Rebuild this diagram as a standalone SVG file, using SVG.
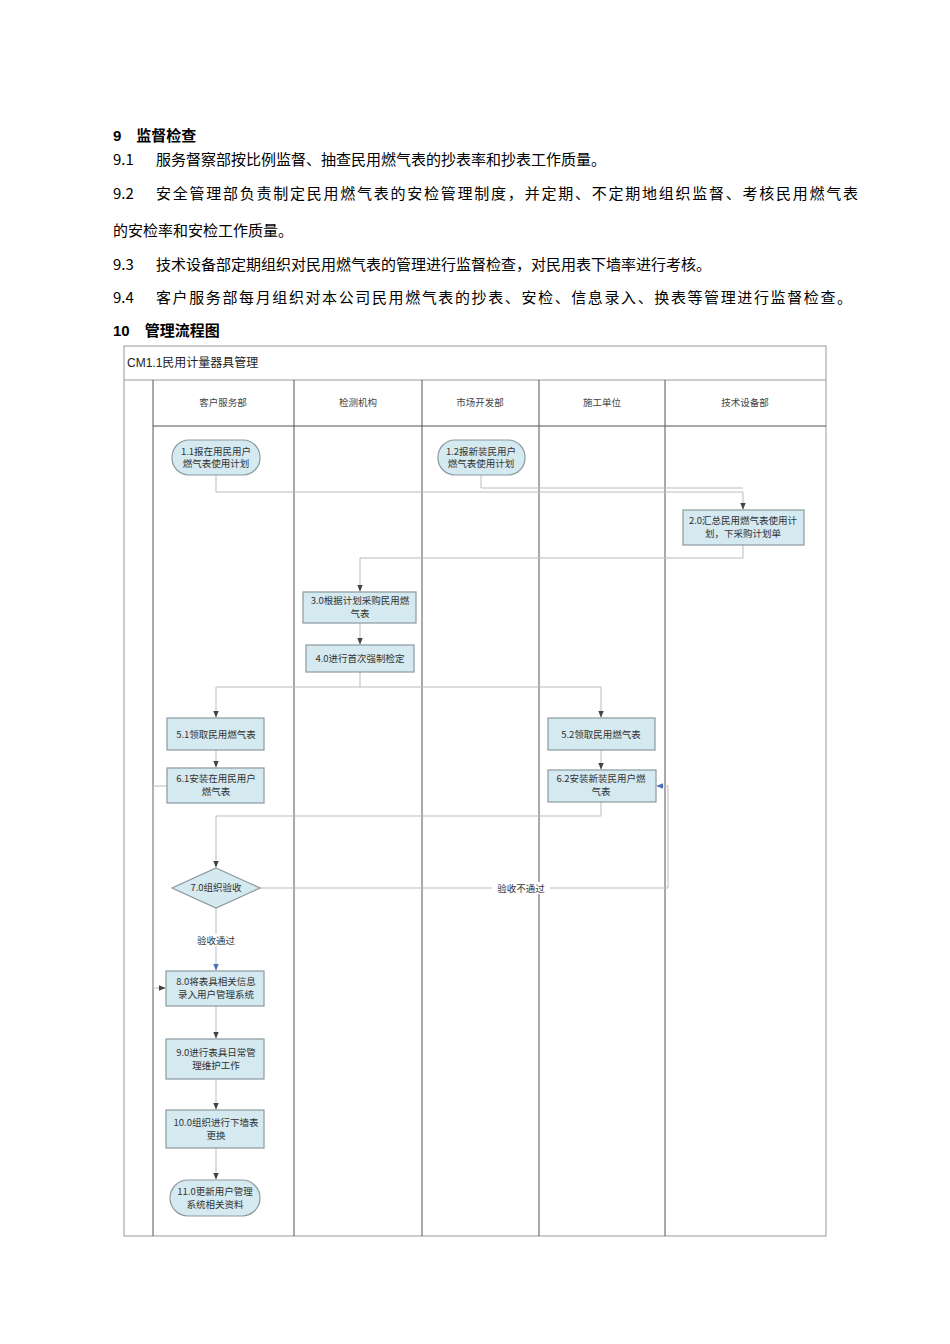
<svg xmlns="http://www.w3.org/2000/svg" width="950" height="1344" viewBox="0 0 950 1344">
<style>
.t{font-family:"Noto Sans CJK SC","Liberation Serif",serif;font-size:15px;fill:#000}
.h{font-family:"Liberation Sans","Noto Sans CJK SC",sans-serif;font-size:15px;font-weight:bold}
.n{fill:#d4e9f0;stroke:#8a9aa0;stroke-width:1.2}
.nt{font-family:"Noto Sans CJK SC",serif;font-size:9.5px;fill:#333;text-anchor:middle}
.lane{fill:none;stroke:#555;stroke-width:1}
.c{fill:none;stroke:#bbb;stroke-width:1}
.lh{font-family:"Noto Sans CJK SC",serif;font-size:9.5px;fill:#444;text-anchor:middle}
</style>
<defs>
<marker id="a" viewBox="0 0 10 10" refX="9" refY="5" markerWidth="7" markerHeight="7" orient="auto"><path d="M0,1 L10,5 L0,9z" fill="#444"/></marker>
<marker id="b" viewBox="0 0 10 10" refX="9" refY="5" markerWidth="7" markerHeight="7" orient="auto"><path d="M0,1 L10,5 L0,9z" fill="#4a6fb5"/></marker>
</defs>
<rect width="950" height="1344" fill="#fff"/>
<g id="text">
<text class="h" x="113" y="141">9　监督检查</text>
<text class="t" x="113" y="165">9.1</text><text class="t" x="156" y="165">服务督察部按比例监督、抽查民用燃气表的抄表率和抄表工作质量。</text>
<text class="t" x="113" y="199">9.2</text><text class="t" x="156" y="199" textLength="702" lengthAdjust="spacing">安全管理部负责制定民用燃气表的安检管理制度，并定期、不定期地组织监督、考核民用燃气表</text>
<text class="t" x="113" y="236">的安检率和安检工作质量。</text>
<text class="t" x="113" y="270">9.3</text><text class="t" x="156" y="270">技术设备部定期组织对民用燃气表的管理进行监督检查，对民用表下墙率进行考核。</text>
<text class="t" x="113" y="303">9.4</text><text class="t" x="156" y="303" textLength="696" lengthAdjust="spacing">客户服务部每月组织对本公司民用燃气表的抄表、安检、信息录入、换表等管理进行监督检查。</text>
<text class="h" x="113" y="336">10　管理流程图</text>
</g>
<g id="frame">
<rect x="124" y="346" width="702" height="890" fill="none" stroke="#999"/>
<line x1="124" y1="380" x2="826" y2="380" stroke="#999"/>
<text x="127" y="367" font-family="Liberation Sans,'Noto Sans CJK SC',sans-serif" font-size="12" fill="#222">CM1.1民用计量器具管理</text>
<line x1="153" y1="426" x2="826" y2="426" class="lane"/>
<path class="lane" d="M153,380V1236M294,380V1236M422,380V1236M539,380V1236M665,380V1236"/>
<text class="lh" x="223" y="406">客户服务部</text>
<text class="lh" x="358" y="406">检测机构</text>
<text class="lh" x="480" y="406">市场开发部</text>
<text class="lh" x="602" y="406">施工单位</text>
<text class="lh" x="745" y="406">技术设备部</text>
</g>
<g id="connectors">
<path class="c" d="M216,475V492H743V509" marker-end="url(#a)"/>
<path class="c" d="M481,475V488H743"/>
<path class="c" d="M743,545V558H360V591" marker-end="url(#a)"/>
<path class="c" d="M360,623V644" marker-end="url(#a)"/>
<path class="c" d="M360,672V687H216V717" marker-end="url(#a)"/>
<path class="c" d="M360,687H601V717" marker-end="url(#a)"/>
<path class="c" d="M216,750V767" marker-end="url(#a)"/>
<path class="c" d="M601,750V769" marker-end="url(#a)"/>
<path class="c" d="M601,802V816H216V867" marker-end="url(#a)"/>
<path class="c" d="M260,888H668V786H657" marker-end="url(#b)"/>
<path class="c" d="M216,908V970" marker-end="url(#b)"/>
<path class="c" d="M167,786H153V988H165" marker-end="url(#a)"/>
<path class="c" d="M216,1006V1038" marker-end="url(#a)"/>
<path class="c" d="M216,1079V1109" marker-end="url(#a)"/>
<path class="c" d="M216,1148V1179" marker-end="url(#a)"/>
<rect x="492" y="882" width="58" height="12" fill="#fff"/>
<text class="nt" x="521" y="892">验收不通过</text>
<rect x="192" y="934" width="48" height="12" fill="#fff"/>
<text class="nt" x="216" y="944">验收通过</text>
</g>
<g id="n11"><rect class="n" x="172" y="440" width="88" height="35" rx="17"/><text class="nt" x="216" y="455">1.1报在用民用户</text><text class="nt" x="216" y="467">燃气表使用计划</text></g>
<g id="n12"><rect class="n" x="438" y="440" width="87" height="35" rx="17"/><text class="nt" x="481" y="455">1.2报新装民用户</text><text class="nt" x="481" y="467">燃气表使用计划</text></g>
<g id="n20"><rect class="n" x="683" y="510" width="121" height="35"/><text class="nt" x="743" y="524">2.0汇总民用燃气表使用计</text><text class="nt" x="743" y="537">划，下采购计划单</text></g>
<g id="n30"><rect class="n" x="303" y="592" width="113" height="31"/><text class="nt" x="360" y="604">3.0根据计划采购民用燃</text><text class="nt" x="360" y="617">气表</text></g>
<g id="n40"><rect class="n" x="306" y="645" width="108" height="27"/><text class="nt" x="360" y="662">4.0进行首次强制检定</text></g>
<g id="n51"><rect class="n" x="167" y="718" width="97" height="32"/><text class="nt" x="216" y="738">5.1领取民用燃气表</text></g>
<g id="n61"><rect class="n" x="167" y="768" width="97" height="35"/><text class="nt" x="216" y="782">6.1安装在用民用户</text><text class="nt" x="216" y="795">燃气表</text></g>
<g id="n52"><rect class="n" x="548" y="718" width="107" height="32"/><text class="nt" x="601" y="738">5.2领取民用燃气表</text></g>
<g id="n62"><rect class="n" x="548" y="770" width="108" height="32"/><text class="nt" x="601" y="782">6.2安装新装民用户燃</text><text class="nt" x="601" y="795">气表</text></g>
<g id="n70"><path class="n" d="M216,868L260,888L216,908L172,888Z"/><text class="nt" x="216" y="891">7.0组织验收</text></g>
<g id="n80"><rect class="n" x="166" y="971" width="98" height="35"/><text class="nt" x="216" y="985">8.0将表具相关信息</text><text class="nt" x="216" y="998">录入用户管理系统</text></g>
<g id="n90"><rect class="n" x="166" y="1039" width="98" height="40"/><text class="nt" x="216" y="1056">9.0进行表具日常管</text><text class="nt" x="216" y="1069">理维护工作</text></g>
<g id="n100"><rect class="n" x="166" y="1110" width="98" height="38"/><text class="nt" x="216" y="1126">10.0组织进行下墙表</text><text class="nt" x="216" y="1139">更换</text></g>
<g id="n110"><rect class="n" x="170" y="1180" width="90" height="36" rx="18"/><text class="nt" x="215" y="1195">11.0更新用户管理</text><text class="nt" x="215" y="1208">系统相关资料</text></g>
</svg>
